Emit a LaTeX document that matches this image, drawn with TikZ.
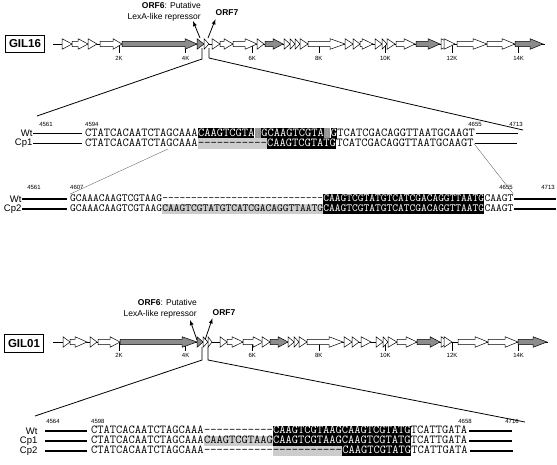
\documentclass[tikz,border=0pt]{standalone}
\usepackage{fontspec}
\setsansfont{Liberation Sans}
\usetikzlibrary{positioning}

\definecolor{genegray}{gray}{0.55}
\definecolor{hilite}{gray}{0.8}
\definecolor{mismatch}{gray}{0.58}

\newcommand{\seqfontA}{\ttfamily\fontsize{12.13}{13}\selectfont}
\newcommand{\seqfontB}{\ttfamily\fontsize{10.93}{12}\selectfont}
\newcommand{\seqgap}[1]{\foreach\gapi in {1,...,#1}{-}}
% gene arrow: start, head start, tip, fill
\newcommand{\orf}[4]{\draw[fill=#4] (#1,-2.6) -- (#2,-2.6) -- (#2,-5.3) -- (#3,0) -- (#2,5.3) -- (#2,2.6) -- (#1,2.6) -- cycle;}
% small gene: start, tip, fill
\newcommand{\tri}[3]{\draw[fill=#3] (#1,-5.3) -- (#2,0) -- (#1,5.3) -- cycle;}

\begin{document}
\begin{tikzpicture}[x=1pt,y=-1pt,
  every node/.style={inner sep=0pt},
  seqA/.style={font=\seqfontA,anchor=base west,text height=8pt,text depth=2.5pt},
  seqB/.style={font=\seqfontB,anchor=base west,text height=7.2pt,text depth=2.3pt},
  blk/.style={fill=black,text=white},
  mis/.style={fill=mismatch,text=mismatch!85!white},
  lite/.style={fill=hilite},
  chrom/.style={line width=1.2pt},
  rowlab/.style={font=\sffamily\fontsize{9.5}{10}\selectfont},
  poslab/.style={font=\sffamily\fontsize{6}{6}\selectfont},
  orflab/.style={font=\sffamily\fontsize{8.5}{11}\selectfont},
  orfarrow/.style={-latex,line width=0.8pt},
  zoomline/.style={line width=0.8pt},
  thinlink/.style={line width=0.3pt,black!70},
  isolate/.style={draw,line width=0.9pt,font=\sffamily\bfseries\fontsize{11.5}{12}\selectfont,minimum width=39pt,minimum height=17.5pt}]
\useasboundingbox (0,0) rectangle (557,464);

% ---------------- GIL16 map
\node[isolate] (gil16) at (25,44) {GIL16};
\begin{scope}[shift={(0,44)},line width=0.5pt]
\draw[line width=0.6pt] (53,0) -- (545,0);
\foreach \t in {1,...,7} {
  \pgfmathtruncatemacro\kb{2*\t}
  \draw (52.4+66.6*\t,0) -- ++(0,8.5) node[poslab,below=4pt] (tickA\t) {\kb K};
}
\tri{62}{72}{white}
\orf{72}{78}{88}{white}
\tri{88}{97}{white}
\orf{100}{113}{122}{white}
\orf{122}{185}{197}{genegray}
\tri{197}{204}{genegray}
\tri{204}{209}{white}
\tri{212}{220}{white}
\orf{220}{224}{233}{white}
\orf{233}{245}{257}{white}
\tri{257}{264}{white}
\orf{265}{273}{283}{genegray}
\tri{284}{290}{white}
\tri{290}{295}{white}
\tri{295}{300}{white}
\tri{300}{308}{white}
\orf{308}{330}{345}{white}
\tri{345}{353}{white}
\tri{353}{360}{white}
\orf{360}{362}{373}{white}
\tri{375}{382}{white}
\tri{382}{387}{white}
\tri{387}{395}{white}
\orf{396}{404}{415}{white}
\orf{416}{428}{440}{genegray}
\tri{441}{452}{white}
\tri{444}{455}{white}
\orf{457}{473}{487}{white}
\orf{487}{502}{515}{white}
\orf{515}{530}{543}{genegray}
\end{scope}

\node[orflab,align=right,anchor=south east] (orf6A) at (201,21) {\textbf{ORF6}: Putative\\LexA-like repressor};
\node[orflab,font=\sffamily\bfseries\fontsize{8.5}{11}\selectfont] (orf7A) at (227,13) {ORF7};
\coordinate (g16o6) at (200,38);
\coordinate (g16o7) at (208,38);
\draw[orfarrow] (g16o6) -- ([xshift=-8pt]orf6A.south east);
\draw[orfarrow] (g16o7) -- ([yshift=-3pt]orf7A.south west);

% zoom to the ORF6/ORF7 region
\coordinate (zA1) at (37,116);
\coordinate (zA2) at (523,130);
\draw[zoomline] (zA1) -- (202,59) -- (202,48);
\draw[zoomline] (209,48) -- (209,58) -- (zA2);

% ---------------- GIL16 alignment Wt / Cp1
\node[poslab] (pA1) at (46,124.5) {4561};
\node[poslab,anchor=west] (pA2) at (85,124.5) {4594};
\node[poslab] (pA3) at (475,124.5) {4655};
\node[poslab] (pA4) at (516,124.5) {4713};

\node[seqA] (wA1) at (85,136.25) {CTATCACAATCTAGCAAA};
\node[seqA,blk] (wA2) at (wA1.base east) {CAAGTCGTA};
\node[seqA,mis] (wA3) at (wA2.base east) {T};
\node[seqA,blk] (wA4) at (wA3.base east) {GCAAGTCGTA};
\node[seqA,mis] (wA5) at (wA4.base east) {T};
\node[seqA,blk] (wA6) at (wA5.base east) {G};
\node[seqA] (wA7) at (wA6.base east) {TCATCGACAGGTTAATGCAAGT};
\draw[chrom] ([xshift=-3pt]wA1.west) -- ++(-49,0) node[rowlab,anchor=east] (labwA) {Wt};
\draw[chrom] ([xshift=1pt]wA7.east) -- ++(42,0);

\node[seqA] (cA1) at (85,146.25) {CTATCACAATCTAGCAAA};
\node[seqA,lite] (cA2) at (cA1.base east) {\seqgap{11}};
\node[seqA,blk] (cA3) at (cA2.base east) {CAAGTCGTATG};
\node[seqA] (cA4) at (cA3.base east) {TCATCGACAGGTTAATGCAAGT};
\draw[chrom] ([xshift=-3pt]cA1.west) -- ++(-49,0) node[rowlab,anchor=east] (labcA) {Cp1};
\draw[chrom] ([xshift=1pt]cA4.east) -- ++(42,0);

% ---------------- GIL16 alignment Wt / Cp2
\node[poslab] (pB1) at (34,187.5) {4561};
\node[poslab,anchor=west] (pB2) at (70,187.5) {4607};
\node[poslab] (pB3) at (506,187.5) {4655};
\node[poslab] (pB4) at (548,187.5) {4713};

\node[seqB] (wB1) at (70,201.5) {GCAAACAAGTCGTAAG};
\node[seqB] (wB2) at (wB1.base east) {\seqgap{28}};
\node[seqB,blk] (wB3) at (wB2.base east) {CAAGTCGTATGTCATCGACAGGTTAATG};
\node[seqB] (wB4) at (wB3.base east) {CAAGT};
\draw[chrom] ([xshift=-3pt]wB1.west) -- ++(-45,0) node[rowlab,anchor=east] (labwB) {Wt};
\draw[chrom] ([xshift=1pt]wB4.east) -- ++(42,0);

\node[seqB] (cB1) at (70,211.5) {GCAAACAAGTCGTAAG};
\node[seqB,lite] (cB2) at (cB1.base east) {CAAGTCGTATGTCATCGACAGGTTAATG};
\node[seqB,blk] (cB3) at (cB2.base east) {CAAGTCGTATGTCATCGACAGGTTAATG};
\node[seqB] (cB4) at (cB3.base east) {CAAGT};
\draw[chrom] ([xshift=-3pt]cB1.west) -- ++(-45,0) node[rowlab,anchor=east] (labcB) {Cp2};
\draw[chrom] ([xshift=1pt]cB4.east) -- ++(42,0);

\draw[thinlink] ([xshift=83pt]cA1.south west) -- (wB1.north west);
\draw[thinlink] (cA4.east) -- (wB4.north east);

% ---------------- GIL01 map
\node[isolate] (gil01) at (24,343.5) {GIL01};
\begin{scope}[shift={(0,342)},line width=0.5pt]
\draw[line width=0.6pt] (53,0) -- (548,0);
\foreach \t in {1,...,7} {
  \pgfmathtruncatemacro\kb{2*\t}
  \draw (52.4+66.6*\t,0) -- ++(0,8.5) node[poslab,below=3pt] (tickB\t) {\kb K};
}
\tri{63}{70}{white}
\orf{70}{75}{87}{white}
\tri{90}{97}{white}
\orf{98}{110}{120}{white}
\orf{120}{182}{197}{genegray}
\tri{197}{203}{genegray}
\tri{203}{208}{white}
\tri{208}{212}{white}
\tri{220}{227}{white}
\orf{227}{232}{243}{white}
\orf{243}{253}{263}{white}
\tri{262}{270}{white}
\orf{270}{278}{288}{genegray}
\tri{288}{294}{white}
\tri{294}{299}{white}
\tri{299}{307}{white}
\orf{307}{329}{343}{white}
\tri{344}{352}{white}
\tri{352}{359}{white}
\tri{361}{371}{white}
\tri{376}{383}{white}
\tri{383}{388}{white}
\tri{388}{397}{white}
\orf{397}{406}{417}{white}
\orf{417}{430}{440}{genegray}
\tri{441}{449}{white}
\tri{444}{452}{white}
\orf{458}{475}{488}{white}
\orf{488}{505}{518}{white}
\orf{518}{533}{547}{genegray}
\end{scope}

\node[orflab,align=right,anchor=south east] (orf6B) at (197,318) {\textbf{ORF6}: Putative\\LexA-like repressor};
\node[orflab,font=\sffamily\bfseries\fontsize{8.5}{11}\selectfont] (orf7B) at (224,313) {ORF7};
\coordinate (g01o6) at (197,340);
\coordinate (g01o7) at (205,340);
\draw[orfarrow] (g01o6) -- ([xshift=-7pt,yshift=-2pt]orf6B.south east);
\draw[orfarrow] (g01o7) -- ([yshift=-2pt]orf7B.south west);

\coordinate (zB1) at (35,416);
\coordinate (zB2) at (525,422);
\draw[zoomline] (zB1) -- (202,360) -- (202,347);
\draw[zoomline] (208,347) -- (208,360) -- (zB2);

% ---------------- GIL01 alignment Wt / Cp1 / Cp2
\node[poslab] (pC1) at (53,421) {4564};
\node[poslab,anchor=west] (pC2) at (91,421) {4598};
\node[poslab] (pC3) at (465,421) {4658};
\node[poslab] (pC4) at (512,421) {4716};

\node[seqA] (wC1) at (91,433.75) {CTATCACAATCTAGCAAA};
\node[seqA] (wC2) at (wC1.base east) {\seqgap{11}};
\node[seqA,blk] (wC3) at (wC2.base east) {CAAGTCGTAAGCAAGTCGTATG};
\node[seqA] (wC4) at (wC3.base east) {TCATTGATA};
\draw[chrom] ([xshift=-4pt]wC1.west) -- ++(-42,0) node[rowlab,anchor=east,xshift=-7pt] (labwC) {Wt};
\draw[chrom] ([xshift=2pt]wC4.east) -- ++(43,0);

\node[seqA] (c1C1) at (91,443.75) {CTATCACAATCTAGCAAA};
\node[seqA,lite] (c1C2) at (c1C1.base east) {CAAGTCGTAAG};
\node[seqA,blk] (c1C3) at (c1C2.base east) {CAAGTCGTAAGCAAGTCGTATG};
\node[seqA] (c1C4) at (c1C3.base east) {TCATTGATA};
\draw[chrom] ([xshift=-4pt]c1C1.west) -- ++(-42,0) node[rowlab,anchor=east,xshift=-7pt] (labc1C) {Cp1};
\draw[chrom] ([xshift=2pt]c1C4.east) -- ++(43,0);

\node[seqA] (c2C1) at (91,453.75) {CTATCACAATCTAGCAAA};
\node[seqA] (c2C2) at (c2C1.base east) {\seqgap{11}};
\node[seqA,lite] (c2C3) at (c2C2.base east) {\seqgap{11}};
\node[seqA,blk] (c2C4) at (c2C3.base east) {CAAGTCGTATG};
\node[seqA] (c2C5) at (c2C4.base east) {TCATTGATA};
\draw[chrom] ([xshift=-4pt]c2C1.west) -- ++(-42,0) node[rowlab,anchor=east,xshift=-7pt] (labc2C) {Cp2};
\draw[chrom] ([xshift=2pt]c2C5.east) -- ++(43,0);
\end{tikzpicture}
\end{document}
